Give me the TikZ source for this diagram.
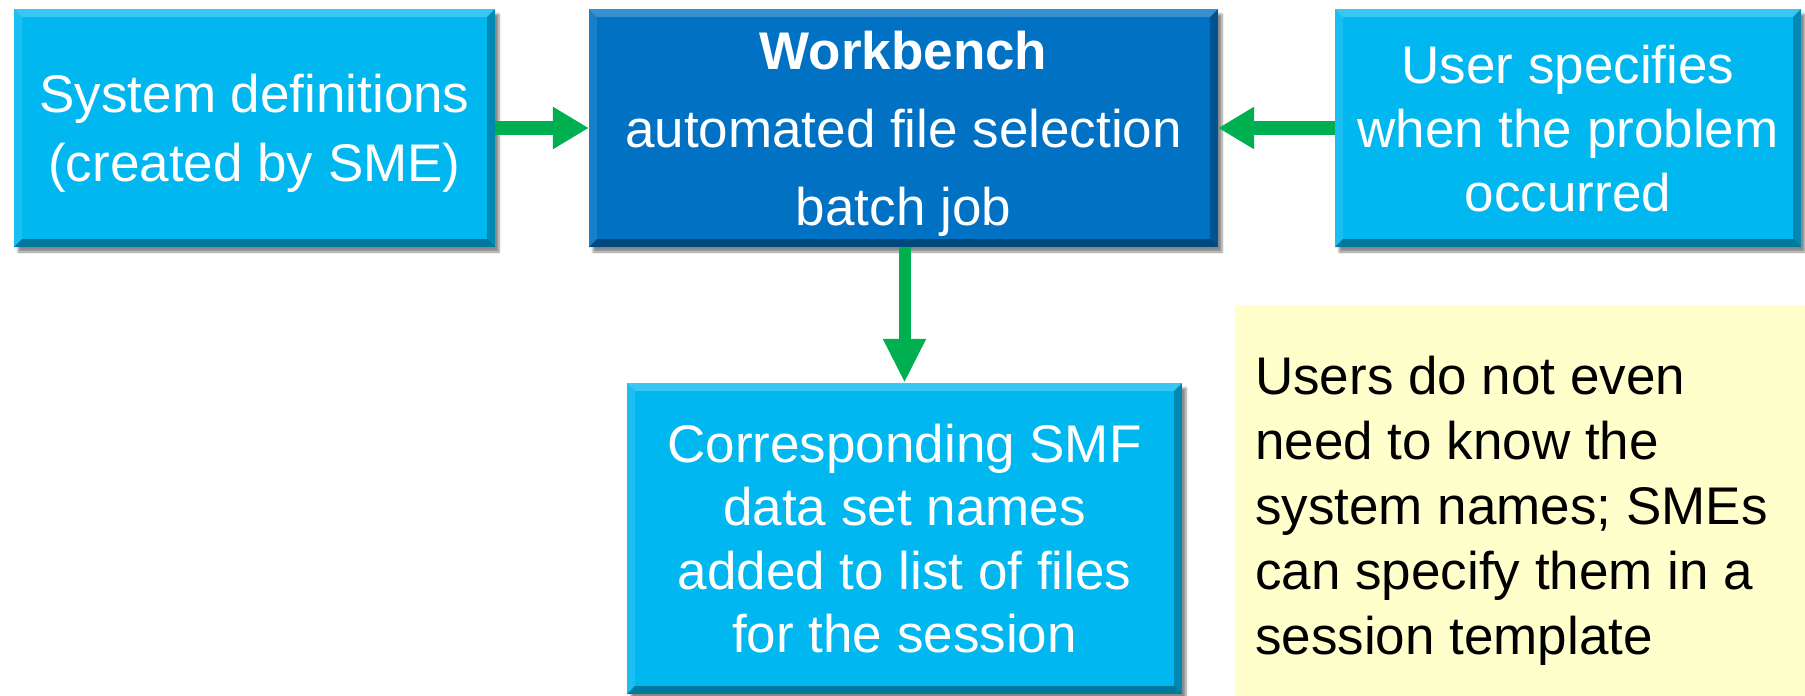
\documentclass[tikz,border=0pt]{standalone}
\usepackage{fontspec}
\setmainfont{Liberation Sans}
\usetikzlibrary{arrows.meta,shadows.blur,calc}

\definecolor{skyfill}{RGB}{0,183,240}
\definecolor{navyfill}{RGB}{0,113,195}
\definecolor{flowgreen}{RGB}{0,176,80}
\definecolor{notefill}{RGB}{255,255,204}

\tikzset{
  bevel/.style={
    path picture={
      \fill[white,opacity=0.22]
        (path picture bounding box.north west) -- (path picture bounding box.north east)
        -- ([shift={(-8pt,-8pt)}]path picture bounding box.north east)
        -- ([shift={(8pt,-8pt)}]path picture bounding box.north west) -- cycle;
      \fill[white,opacity=0.10]
        (path picture bounding box.north west) -- ([shift={(8pt,-8pt)}]path picture bounding box.north west)
        -- ([shift={(8pt,8pt)}]path picture bounding box.south west)
        -- (path picture bounding box.south west) -- cycle;
      \fill[black,opacity=0.35]
        (path picture bounding box.south west) -- (path picture bounding box.south east)
        -- ([shift={(-8pt,8pt)}]path picture bounding box.south east)
        -- ([shift={(8pt,8pt)}]path picture bounding box.south west) -- cycle;
      \fill[black,opacity=0.25]
        (path picture bounding box.north east) -- ([shift={(-8pt,-8pt)}]path picture bounding box.north east)
        -- ([shift={(-8pt,8pt)}]path picture bounding box.south east)
        -- (path picture bounding box.south east) -- cycle;
    }},
  flowbox/.style={rectangle, inner sep=0pt, align=center, text=white, bevel,
    blur shadow={shadow xshift=4pt, shadow yshift=-5pt, shadow blur steps=6, shadow opacity=45},
    font=\fontsize{53}{66}\selectfont},
  skybox/.style={flowbox, fill=skyfill},
  navybox/.style={flowbox, fill=navyfill},
  notebox/.style={rectangle, inner sep=0pt, fill=notefill},
  flowarrow/.style={draw=flowgreen, line width=14pt,
    -{Triangle[length=36pt,width=40pt]}},
}

\begin{document}
\begin{tikzpicture}[x=1pt,y=-1pt]
  \useasboundingbox (0,0) rectangle (1805,696);

  % input boxes and the central job
  \node[skybox, minimum width=481pt, minimum height=238pt, text depth=-2pt,
        font=\fontsize{53}{69}\selectfont] (sysdef) at (254.5,128)
    {System definitions\\(created by SME)};
  \node[navybox, minimum width=629pt, minimum height=238pt, text depth=-12pt] (bench) at (903.5,128)
    {\textbf{Workbench}\\[12pt]automated file selection\\[12pt]batch job};
  \node[skybox, minimum width=466pt, minimum height=238pt, text depth=0pt,
        font=\fontsize{53}{64}\selectfont] (user) at (1568,128)
    {User specifies\\when the problem\\occurred};

  % result of the job
  \node[skybox, minimum width=555pt, minimum height=311pt, text depth=-3pt,
        font=\fontsize{53}{63.5}\selectfont] (files) at (904.5,538.5)
    {Corresponding SMF\\data set names\\added to list of files\\for the session};

  % side note
  \node[notebox, minimum width=570pt, minimum height=391pt] (note) at (1520,500.5) {};
  \node[anchor=west, align=left, font=\fontsize{53}{65}\selectfont, inner sep=0pt] (notetext) at (1255,510.5)
    {Users do not even\\need to know the\\system names; SMEs\\can specify them in a\\session template};

  % connectors
  \draw[flowarrow] (sysdef.east) -- (bench.west);
  \draw[flowarrow] (user.west) -- (bench.east);
  \draw[flowarrow, line width=12pt, -{Triangle[length=44pt,width=40pt]}]
    (bench.south -| files.north) -- (files.north);
\end{tikzpicture}
\end{document}
